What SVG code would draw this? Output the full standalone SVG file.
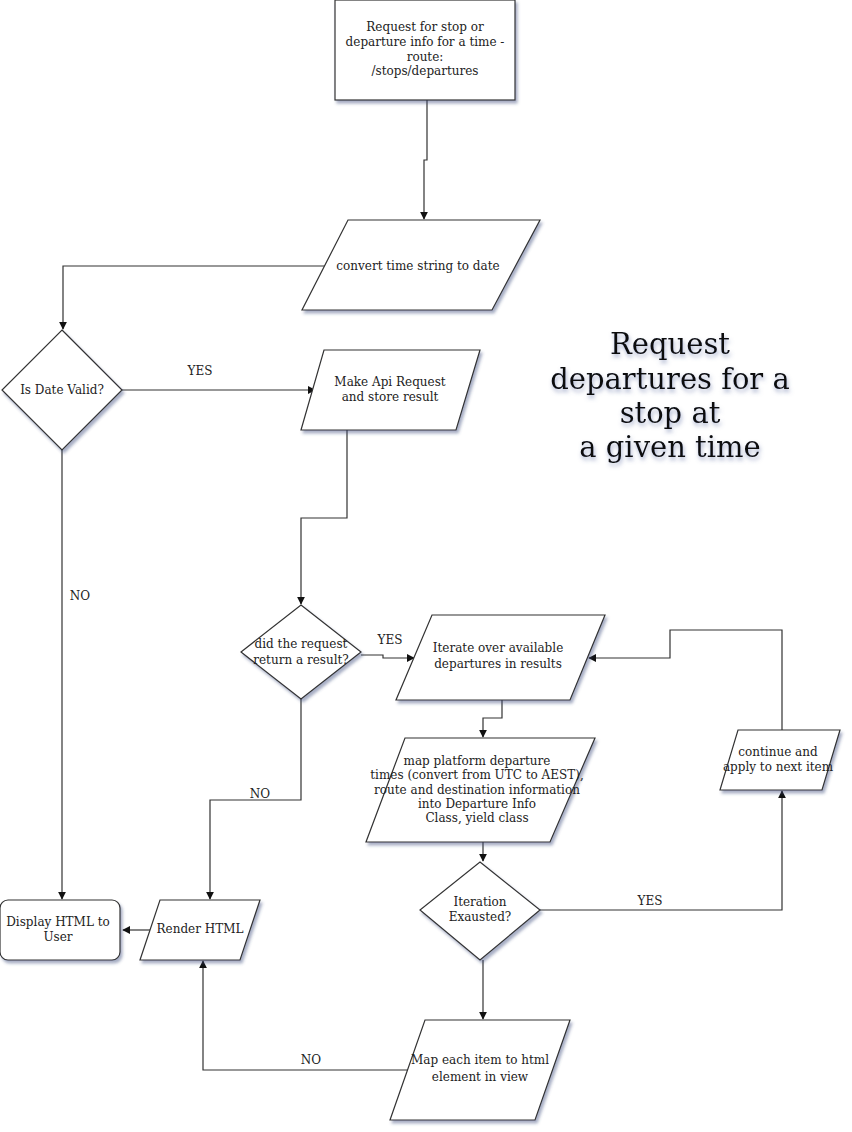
<svg xmlns="http://www.w3.org/2000/svg" width="852" height="1132" viewBox="0 0 852 1132">
<defs>
<filter id="sh" x="-10%" y="-10%" width="130%" height="130%">
<feDropShadow dx="2" dy="3" stdDeviation="1.5" flood-color="#3a4a7a" flood-opacity="0.45"/>
</filter>
<filter id="tsh" x="-10%" y="-20%" width="130%" height="150%">
<feDropShadow dx="1" dy="3" stdDeviation="2" flood-color="#5a6aa0" flood-opacity="0.55"/>
</filter>
<marker id="ar" viewBox="0 0 10 10" refX="9" refY="5" markerWidth="8" markerHeight="8" markerUnits="userSpaceOnUse" orient="auto">
<path d="M0,0 L10,5 L0,10 z" fill="#111"/>
</marker>
</defs>
<style>
.n{fill:#fff;stroke:#333;stroke-width:1.2;filter:url(#sh)}
.c{fill:none;stroke:#333;stroke-width:1.2;marker-end:url(#ar)}
text{font-family:"DejaVu Serif","Liberation Serif",serif;font-size:12px;fill:#222;text-anchor:middle}
.t{font-size:29px;fill:#111;filter:url(#tsh)}
</style>
<rect width="852" height="1132" fill="#fff"/>
<g id="connectors">
<path class="c" d="M427,100 V160 H424 V219"/>
<path class="c" d="M325,266 H63 V329"/>
<path class="c" d="M122,390 H315"/>
<path class="c" d="M347,430 V518 H301 V604"/>
<path class="c" d="M361,655 H383 V658 H414"/>
<path class="c" d="M782,730 V630 H670 V658 H589"/>
<path class="c" d="M502,700 V718 H483 V737"/>
<path class="c" d="M483,842 V861"/>
<path class="c" d="M540,910 H782 V791"/>
<path class="c" d="M483,960 V1019"/>
<path class="c" d="M408,1070 H203 V961"/>
<path class="c" d="M150,930 H123"/>
<path class="c" d="M62,450 V899"/>
<path class="c" d="M301,699 V800 H210 V899"/>
<text x="200" y="375">YES</text>
<text x="390" y="644">YES</text>
<text x="650" y="905">YES</text>
<text x="80" y="600">NO</text>
<text x="260" y="798">NO</text>
<text x="311" y="1064">NO</text>
</g>
<g id="n-request">
<rect class="n" x="335" y="0" width="180" height="100"/>
<text x="425" y="31">Request for stop or</text>
<text x="425" y="46">departure info for a time -</text>
<text x="425" y="61">route:</text>
<text x="425" y="75">/stops/departures</text>
</g>
<g id="n-convert">
<polygon class="n" points="348,220 540,220 492,310 302,310"/>
<text x="418" y="270">convert time string to date</text>
</g>
<g id="n-valid">
<polygon class="n" points="62,330 122,390 62,450 2,390"/>
<text x="62" y="394">Is Date Valid?</text>
</g>
<g id="n-api">
<polygon class="n" points="324,350 480,350 456,430 301,430"/>
<text x="390" y="386">Make Api Request</text>
<text x="390" y="401">and store result</text>
</g>
<g id="n-result">
<polygon class="n" points="301,605 361,652 301,699 241,652"/>
<text x="301" y="648">did the request</text>
<text x="301" y="664">return a result?</text>
</g>
<g id="n-iterate">
<polygon class="n" points="432,615 605,615 570,700 396,700"/>
<text x="498" y="652">Iterate over available</text>
<text x="498" y="668">departures in results</text>
</g>
<g id="n-map">
<polygon class="n" points="405,738 595,738 550,842 366,842"/>
<text x="477" y="765">map platform departure</text>
<text x="477" y="779">times (convert from UTC to AEST),</text>
<text x="477" y="794">route and destination information</text>
<text x="477" y="808">into Departure Info</text>
<text x="477" y="822">Class, yield class</text>
</g>
<g id="n-exhausted">
<polygon class="n" points="480,862 540,910 480,960 420,910"/>
<text x="480" y="906">Iteration</text>
<text x="480" y="921">Exausted?</text>
</g>
<g id="n-continue">
<polygon class="n" points="738,730 840,730 822,790 720,790"/>
<text x="778" y="756">continue and</text>
<text x="778" y="771">apply to next item</text>
</g>
<g id="n-maphtml">
<polygon class="n" points="425,1020 570,1020 535,1120 390,1120"/>
<text x="480" y="1064">Map each item to html</text>
<text x="480" y="1081">element in view</text>
</g>
<g id="n-render">
<polygon class="n" points="160,900 260,900 240,960 140,960"/>
<text x="200" y="933">Render HTML</text>
</g>
<g id="n-display">
<rect class="n" x="0" y="900" width="120" height="60" rx="8"/>
<text x="58" y="926">Display HTML to</text>
<text x="58" y="941">User</text>
</g>
<g id="title">
<text class="t" x="670" y="354">Request</text>
<text class="t" x="670" y="389">departures for a</text>
<text class="t" x="670" y="423">stop at</text>
<text class="t" x="670" y="457">a given time</text>
</g>
</svg>
